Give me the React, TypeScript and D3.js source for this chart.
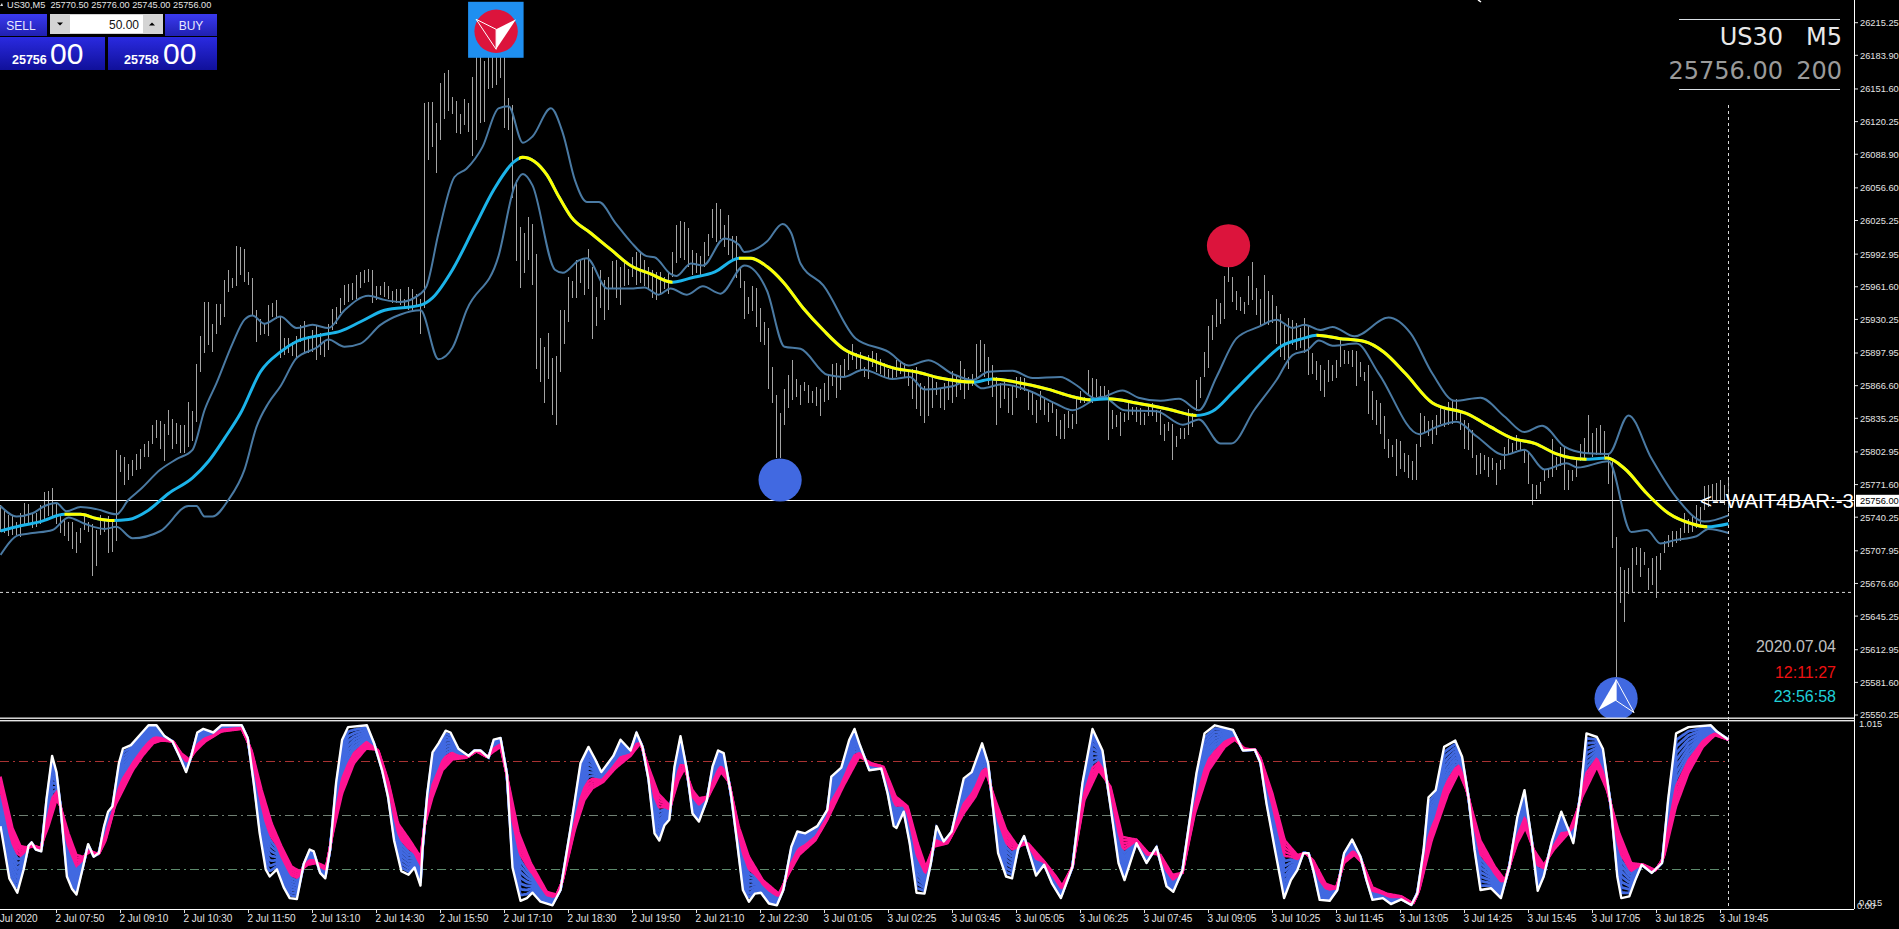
import React from 'react';
import * as d3 from 'd3';

// price bars, M5, one entry per bar (bar 0 is the left edge, bar 432 the last one)
const barHighs = [
  25752,25748,25742,25741,25736,25744,25754,25753,25744,25744,25752,25764,25765,25768,25754,25741,25738,25736,25736,25726,
  25730,25741,25736,25734,25728,25742,25738,25741,25736,25805,25800,25798,25791,25795,25801,25806,25811,25813,25829,25834,
  25833,25830,25843,25835,25831,25829,25829,25851,25842,25887,25914,25947,25947,25926,25945,25945,25968,25978,25970,26001,
  26000,25998,25976,25970,25939,25931,25927,25944,25946,25949,25933,25912,25912,25909,25914,25925,25929,25914,25920,25924,
  25917,25909,25926,25940,25942,25951,25963,25964,25965,25973,25976,25978,25979,25978,25962,25962,25966,25962,25958,25959,
  25959,25950,25961,25959,25955,25950,26138,26139,26139,26119,26157,26167,26170,26144,26140,26128,26142,26138,26163,26190,
  26185,26178,26183,26183,26183,26183,26183,26143,26136,26064,26019,26013,26029,26022,25993,25912,25904,25917,25893,25895,
  25939,25939,25971,25967,25987,25987,25989,25998,25981,25952,25978,25968,25971,25986,25987,25981,25986,25979,25990,25995,
  25994,25987,25981,25978,25976,25976,25971,25975,25995,26021,26025,26024,26018,25997,25994,25991,26005,26012,26036,26042,
  26036,26021,26031,26010,26010,25981,25967,25952,25962,25960,25941,25928,25922,25885,25858,25840,25863,25877,25891,25873,
  25867,25870,25867,25861,25865,25863,25869,25877,25887,25888,25886,25892,25899,25907,25898,25899,25885,25896,25900,25898,
  25892,25888,25883,25883,25891,25890,25888,25880,25883,25885,25869,25866,25875,25875,25870,25864,25869,25874,25881,25877,
  25890,25883,25875,25878,25907,25910,25907,25894,25886,25875,25869,25870,25864,25867,25875,25875,25874,25861,25861,25853,
  25861,25856,25850,25850,25844,25834,25839,25842,25839,25854,25861,25856,25882,25874,25873,25866,25866,25862,25843,25838,
  25841,25840,25850,25846,25846,25845,25840,25848,25850,25843,25843,25830,25832,25830,25818,25826,25826,25844,25840,25872,
  25875,25899,25924,25934,25950,25946,25972,25981,25971,25958,25952,25947,25972,25985,25960,25950,25973,25958,25954,25943,
  25935,25925,25932,25930,25927,25922,25932,25925,25898,25890,25886,25882,25891,25886,25891,25911,25901,25900,25901,25900,
  25889,25880,25886,25861,25853,25850,25837,25815,25810,25815,25813,25802,25800,25794,25811,25840,25837,25833,25834,25838,
  25848,25843,25851,25853,25854,25843,25834,25831,25824,25800,25802,25800,25798,25797,25792,25795,25808,25815,25812,25819,
  25814,25805,25803,25772,25771,25774,25786,25787,25815,25798,25808,25808,25786,25786,25795,25811,25816,25838,25821,25826,
  25829,25823,25802,25795,25721,25692,25690,25691,25711,25712,25711,25707,25691,25701,25703,25706,25717,25723,25727,25727,
  25730,25744,25739,25741,25752,25750,25770,25771,25772,25773,25776,25771,25776,
];
const barLows = [
  25726,25725,25722,25723,25723,25721,25733,25734,25730,25731,25734,25738,25741,25741,25734,25725,25722,25717,25710,25706,
  25715,25728,25726,25684,25693,25723,25726,25706,25707,25717,25784,25771,25776,25780,25786,25787,25798,25798,25811,25816,
  25806,25794,25819,25806,25811,25802,25802,25808,25813,25832,25880,25898,25906,25899,25916,25925,25933,25957,25960,25962,
  25973,25966,25963,25934,25909,25915,25916,25914,25933,25931,25893,25896,25898,25895,25893,25909,25899,25898,25899,25891,
  25896,25894,25901,25920,25926,25936,25944,25947,25949,25950,25960,25965,25966,25946,25949,25954,25952,25950,25946,25946,
  25944,25942,25939,25939,25942,25916,25941,26083,26096,26071,26103,26123,26130,26128,26109,26108,26117,26110,26087,26103,
  26119,26120,26152,26153,26155,26162,26114,26112,26047,25986,25960,25975,25987,25963,25883,25870,25850,25873,25838,25829,
  25880,25907,25928,25951,25951,25965,25954,25959,25911,25924,25941,25930,25939,25960,25951,25944,25962,25963,25971,25963,
  25965,25962,25959,25951,25949,25955,25959,25955,25971,25984,25989,25987,25981,25973,25975,25973,25981,25991,26008,26005,
  26007,26000,25992,25987,25970,25960,25931,25935,25938,25923,25909,25906,25863,25850,25797,25797,25829,25845,25853,25856,
  25848,25861,25850,25850,25847,25837,25851,25853,25866,25855,25862,25875,25882,25891,25883,25882,25875,25873,25885,25880,
  25878,25875,25874,25874,25875,25878,25874,25866,25854,25844,25837,25831,25837,25845,25858,25845,25843,25853,25850,25856,
  25862,25854,25862,25866,25874,25880,25875,25867,25856,25829,25845,25854,25840,25838,25855,25862,25861,25843,25838,25831,
  25843,25838,25832,25840,25818,25815,25815,25826,25825,25830,25850,25850,25858,25850,25856,25854,25853,25814,25825,25827,
  25818,25832,25834,25838,25832,25829,25829,25837,25837,25832,25819,25813,25823,25795,25808,25815,25815,25819,25827,25842,
  25855,25875,25884,25910,25923,25926,25931,25966,25947,25939,25938,25935,25944,25949,25934,25925,25925,25925,25927,25907,
  25894,25891,25883,25906,25901,25903,25898,25877,25878,25872,25861,25856,25870,25871,25874,25885,25887,25887,25885,25866,
  25875,25871,25839,25834,25829,25820,25806,25797,25798,25780,25787,25784,25778,25776,25776,25808,25821,25818,25811,25819,
  25830,25827,25829,25830,25834,25824,25806,25805,25797,25781,25782,25786,25779,25786,25771,25786,25787,25801,25801,25805,
  25804,25792,25772,25752,25758,25763,25775,25778,25779,25786,25789,25766,25766,25775,25779,25794,25795,25802,25798,25800,
  25800,25798,25772,25711,25587,25658,25640,25666,25667,25694,25683,25694,25670,25675,25663,25690,25706,25712,25712,25715,
  25717,25725,25725,25726,25730,25731,25747,25750,25757,25757,25754,25752,25745,
];

// [bar, price]
const midLine = [
  [0,25727],[5,25732],[10,25736],[16,25743],[20,25743],[24,25739],[28,25737],[32,25738],[37,25747],[42,25763],[48,25778],[52,25794],
  [56,25816],[60,25840],[65,25880],[70,25899],[74,25909],[80,25915],[85,25919],[90,25928],[96,25939],[105,25944],[108,25951],[113,25978],
  [118.5,26019],[123.5,26056],[128.5,26082],[130.5,26086],[133.5,26082],[136.6,26069],[139.6,26048],[142.6,26029],[147.6,26013],[152.7,25997],[157.5,25982],
  [162.5,25974],[168,25966],[172.6,25970],[178.6,25976],[184.6,25989],[187.6,25989],[191.6,25981],[195.7,25966],[200.7,25941],[205.7,25920],[210.7,25902],
  [217.8,25891],[223.8,25883],[228.8,25880],[234.8,25874],[243.4,25870],[247.9,25873],[253.9,25870],[262,25863],[268,25856],[272.5,25853],[277,25854],
  [284,25850],[292,25844],[299,25838],[303,25842],[308,25860],[314.5,25885],[320,25904],[325.7,25912],[329,25915],[334.6,25912],[341,25909],[345.8,25899],
  [351.3,25878],[358,25850],[367,25839],[372.5,25827],[378,25816],[383.7,25811],[389,25801],[396,25796],[401.6,25797],[406,25787],[411.6,25763],[417,25744],
  [422.8,25734],[426.7,25731],[432,25734],
];
const upperBand = [
  [0,25751],[4,25741],[8,25744],[11,25751],[14,25754],[16.5,25746],[20,25750],[24,25748],[29,25743],[32,25757],[35,25767],[40,25786],[44,25796],[48,25805],
  [51,25843],[54,25869],[58,25907],[61,25930],[63,25934],[66,25926],[70,25933],[74,25922],[78,25925],[82,25922],[86,25939],[92,25953],[96,25949],[100,25947],
  [105,25955],[106.5,25962],[109.5,26013],[113.5,26067],[116.5,26075],[120.5,26096],[124.5,26133],[127,26135],[130.6,26100],[133,26106],[137.6,26133],
  [140.6,26109],[143.6,26064],[146.6,26043],[149.6,26043],[153.7,26023],[157.5,26005],[161.5,25991],[163.5,25990],[167.5,25974],[169,25972],[172.6,25984],
  [175.6,25982],[181,26008],[184.6,26002],[186,25995],[191.6,26005],[195.5,26022],[197.7,26013],[200,25984],[205.7,25963],[213.8,25912],[222,25899],[227,25886],
  [232,25891],[238,25878],[243,25872],[247,25880],[253,25881],[258,25874],[265,25875],[269,25867],[274,25854],[280.5,25862],[284.5,25855],[290,25852],
  [294.6,25854],[299.6,25843],[304,25875],[309,25912],[314.5,25923],[319,25930],[323,25922],[326,25925],[330,25920],[333,25923],[338.5,25914],[347,25932],
  [352.5,25917],[358,25878],[363.6,25852],[370,25855],[376,25837],[381,25822],[385.4,25828],[391,25808],[396,25802],[402,25801],[407,25838],[412.7,25797],
  [419.4,25757],[426,25736],[432,25742],
];
const lowerBand = [
  [0,25704],[4.5,25723],[8,25725],[13,25728],[17,25740],[21,25734],[26,25729],[29,25731],[33,25720],[40,25727],[47,25751],[49,25751],[51,25741],[53,25741],
  [57,25757],[61,25786],[64,25827],[67,25850],[70,25866],[74,25893],[79,25903],[82,25911],[86,25904],[90,25907],[95,25925],[100,25935],[105,25939],[109.5,25892],
  [113,25903],[116.5,25939],[124.5,25991],[128.5,26058],[130.6,26070],[133,26059],[138.6,25978],[140.6,25975],[144.6,25987],[146.6,25989],[151.7,25960],
  [157.5,25960],[161,25961],[164.5,25954],[167.5,25960],[171.6,25954],[175.6,25962],[180,25955],[186,25982],[191.6,25958],[196,25904],[200,25902],[206.7,25877],
  [210.7,25875],[215.7,25882],[223,25873],[227.3,25875],[231,25863],[238,25866],[242,25872],[245.4,25864],[250.4,25868],[257,25862],[264,25849],[268,25843],
  [275.5,25856],[281,25843],[289,25842],[295.6,25829],[299.6,25834],[305,25811],[307.7,25811],[313.4,25843],[319,25872],[323,25896],[326.8,25901],[329.6,25910],
  [333,25905],[339,25907],[344.6,25878],[354.7,25820],[359,25827],[364,25832],[369,25818],[376,25800],[381,25805],[386,25786],[391.5,25792],[394.3,25788],
  [402,25794],[407.7,25726],[411.6,25728],[415,25715],[418.3,25718],[424,25722],[427,25729],[432,25725],
];
// bar ranges where the middle line is falling, it turns yellow there
const fallingRanges = [[16,28.5],[129.6,168],[184.6,243.4],[248,272.5],[277,299],[329,396.5],[401,426.7]];

// oscillator, [bar, value]. Fast is the white edge of the ribbon, slow the pink edge
const oscFast = [
  [0,.44],[2.2,.15],[4.2,.07],[5.8,.2],[7,.33],[7.8,.35],[8.8,.31],[10.2,.3],[11.5,.59],[12.9,.83],[14,.74],[15,.55],[16.6,.16],[17.9,.09],[19,.06],[20.6,.21],
  [21.9,.34],[23.3,.27],[24.6,.29],[25.9,.44],[26.9,.52],[28,.55],[29.6,.79],[30.6,.87],[32.6,.89],[35,.95],[37,1],[39,1],[41,.94],[43,.91],[44.7,.83],[46.4,.74],
  [47.7,.83],[49.2,.96],[50.7,.98],[53.2,.96],[55.2,1],[60.3,1],[61.8,.93],[63.3,.68],[64.8,.4],[66.3,.2],[67.3,.16],[69.1,.2],[70.8,.1],[72.3,.04],[74.1,.035],
  [75.8,.23],[77.3,.31],[78.3,.3],[79.9,.18],[81.2,.15],[82.4,.31],[83.9,.68],[85.4,.92],[86.9,.99],[91.6,1],[93.4,.9],[95.4,.75],[96.9,.6],[98.4,.36],[100.2,.19],
  [102,.17],[103.5,.21],[105,.11],[105.5,.31],[106.7,.62],[108,.85],[109.5,.9],[111.3,.97],[112.5,.96],[114.5,.87],[117,.83],[118.5,.86],[120,.86],[122,.82],
  [123.3,.92],[125,.93],[126.6,.73],[128,.21],[130,.025],[131.6,.04],[133,.07],[135,.02],[138,0],[140,.085],[142.6,.44],[145,.79],[147,.88],[148.7,.81],[150.2,.74],
  [153.2,.83],[155,.92],[157.5,.86],[159,.96],[160.5,.88],[162,.7],[163.5,.4],[164.7,.36],[166,.445],[167.2,.475],[168.5,.77],[170,.94],[171.6,.75],[173,.51],
  [174.6,.465],[176.6,.585],[178,.77],[179.4,.86],[180.8,.845],[182.6,.62],[184.1,.36],[185.6,.085],[187.1,.02],[188.6,.065],[190.1,.07],[192.1,.01],[194.1,0],
  [195.7,.085],[197.7,.325],[199.2,.41],[201.2,.4],[204.2,.44],[206.7,.53],[207.7,.715],[210.2,.765],[212.2,.92],[213.5,.98],[214.7,.9],[217.2,.75],[220.2,.76],
  [221.8,.62],[223.3,.44],[224,.43],[225.8,.52],[227.3,.345],[229,.07],[231,.065],[232.6,.235],[234,.44],[235.8,.355],[237.8,.41],[240.8,.705],[242.8,.74],[245.4,.9],
  [246.9,.79],[249.4,.29],[251.4,.16],[252.9,.15],[254.4,.315],[255.9,.385],[258.9,.165],[260.9,.225],[262.9,.12],[265.1,.04],[268,.215],[270.5,.68],[273,.98],
  [275.5,.86],[277.5,.55],[279.5,.235],[281,.14],[284,.345],[286.5,.235],[289,.325],[291.5,.105],[293.2,.075],[295.5,.195],[299,.735],[301,.955],[303.6,1],[308.1,.975],
  [310.6,.86],[313.6,.865],[315,.79],[316.5,.565],[318.6,.31],[320.9,.04],[322.6,.14],[324.2,.195],[325.7,.29],[327,.29],[328.2,.195],[329.8,.03],[332.3,.025],
  [334.2,.085],[335.9,.29],[337.9,.365],[340,.27],[341.5,.14],[343,.03],[345.6,.04],[347.6,.007],[350.2,.033],[352.7,.002],[354.2,.067],[355.8,.31],[357,.6],[358.8,.64],
  [360.9,.88],[363.7,.915],[365.4,.825],[367,.6],[368.5,.31],[370,.085],[372.6,.095],[375.1,.04],[377.2,.215],[379.2,.49],[381,.64],[382.8,.36],[384.3,.08],[385.8,.16],
  [387.9,.36],[390.2,.52],[392,.42],[393.2,.345],[395,.62],[396.5,.955],[399.1,.935],[400.6,.87],[402.6,.55],[404.2,.16],[405.2,.04],[407.2,.05],[408.7,.14],[410.3,.225],
  [412.8,.18],[415.4,.235],[416.9,.585],[418.9,.955],[422,.99],[427.6,1],[429.1,.965],[432,.92],
];
const oscSlow = [
  [0,.715],[3,.43],[5,.33],[7,.32],[8.5,.33],[10,.32],[12,.44],[14,.585],[15,.55],[17,.4],[19,.28],[20.6,.27],[22.6,.3],[24.6,.285],[26.3,.36],[28.6,.55],[30.6,.64],
  [33.1,.75],[35.7,.835],[38.2,.9],[40.2,.915],[43.2,.91],[45.2,.845],[47.2,.81],[48.7,.855],[51.2,.91],[55.2,.965],[60.3,.98],[62.8,.86],[65.3,.64],[67.8,.455],
  [70.3,.325],[72.8,.215],[74.8,.19],[76.8,.225],[79.3,.235],[81.4,.215],[82.9,.38],[85.4,.62],[88.4,.79],[91.4,.87],[94.4,.865],[96.9,.695],[99.4,.455],[102.4,.36],
  [105,.27],[106,.44],[108,.6],[110.5,.75],[113,.81],[116.5,.82],[119,.855],[121.5,.825],[125,.88],[127,.68],[129.6,.4],[132.6,.235],[136.6,.075],[139,.06],[140.6,.14],
  [143.6,.42],[146,.585],[148,.65],[150.7,.685],[153.7,.76],[157.5,.83],[160,.9],[162,.77],[164.5,.62],[167.5,.55],[169.5,.695],[171,.76],[173,.64],[174.6,.595],[177,.605],
  [180.1,.74],[182.1,.685],[184.6,.435],[187.1,.27],[190.6,.14],[194.6,.065],[196.7,.16],[199.7,.28],[203.7,.36],[206.7,.475],[210.7,.66],[214.7,.825],[217.7,.79],[220.8,.77],
  [223.8,.605],[226.8,.55],[229.3,.345],[231.3,.215],[233.3,.325],[236.8,.345],[240.8,.51],[243.8,.605],[246.4,.735],[248.4,.605],[251.4,.42],[254.4,.325],[256.9,.345],
  [260.9,.245],[263.9,.16],[265.4,.11],[268,.215],[271,.585],[274.5,.75],[277.5,.66],[280.5,.38],[284,.365],[287,.29],[290,.28],[293,.17],[295.5,.18],[298.6,.51],[302.1,.75],
  [306.1,.88],[308.6,.92],[311.1,.87],[313.6,.865],[315,.82],[318,.62],[321.1,.36],[324.2,.28],[326.2,.29],[328.2,.25],[331.3,.12],[333.9,.1],[335.9,.235],[338.4,.28],[340.5,.235],
  [343,.1],[346.6,.065],[350.2,.05],[353.2,.01],[354.7,.085],[357.8,.36],[361.9,.62],[364.6,.74],[366.5,.64],[370,.36],[373.6,.215],[376.1,.14],[379.2,.345],[381.2,.43],[383.3,.31],
  [385.8,.225],[388.4,.31],[392,.4],[395.5,.605],[399.1,.77],[401.6,.64],[404.7,.4],[407.7,.235],[410.8,.225],[413.8,.195],[415.9,.27],[418.9,.55],[422,.735],[425.6,.88],[428.6,.945],[432,.92],
];
// the ribbon strands between the two read edges are blended from them
const blueMix = [.09, .18, .27, .36, .45, .54, .63];
const pinkMix = [.72, .79, .86, .93, 1];

const oscLevels = [.8, .5, .2];
const oscLevelColors = ['#a83232', '#6f7f72', '#5d8a6c'];

const priceTicks = [
  '26215.25','26183.90','26151.60','26120.25','26088.90','26056.60','26025.25','25992.95','25961.60','25930.25','25897.95',
  '25866.60','25835.25','25802.95','25771.60','25740.25','25707.95','25676.60','25645.25','25612.95','25581.60','25550.25',
];
// one label every 16 bars, the first one sits two bars before the left edge
const timeLabels = [
  '2 Jul 2020','2 Jul 07:50','2 Jul 09:10','2 Jul 10:30','2 Jul 11:50','2 Jul 13:10','2 Jul 14:30','2 Jul 15:50','2 Jul 17:10','2 Jul 18:30',
  '2 Jul 19:50','2 Jul 21:10','2 Jul 22:30','3 Jul 01:05','3 Jul 02:25','3 Jul 03:45','3 Jul 05:05','3 Jul 06:25','3 Jul 07:45','3 Jul 09:05',
  '3 Jul 10:25','3 Jul 11:45','3 Jul 13:05','3 Jul 14:25','3 Jul 15:45','3 Jul 17:05','3 Jul 18:25','3 Jul 19:45',
];

const bidPrice = 25756;
const dottedPrice = 25668;
const logoMark = {bar: 123.9, price: 26207};
const sellDot = {bar: 307, price: 26001};
const buyDot = {bar: 194.9, price: 25776};
const buyArrow = {bar: 403.9, price: 25566};

const WIDTH = 1899;
const HEIGHT = 929;
const AXIS_X = 1854;
const BOTTOM = 909;
const SPLIT = 718;
const SANS = '"Liberation Sans", Arial, sans-serif';

const x = d3.scaleLinear().domain([0, 432]).range([0.5, 1728.5]);
const y = d3.scaleLinear().domain([25550.25, 26215.25]).range([715, 22.7]);
const yOsc = d3.scaleLinear().domain([0, 1]).range([905.3, 725.3]);

const priceLine = d3.line<number[]>().x(d => x(d[0])).y(d => y(d[1])).curve(d3.curveMonotoneX);
const oscLine = d3.line<number[]>().x(d => x(d[0])).y(d => yOsc(d[1]));

const fastAt = d3.scaleLinear().domain(oscFast.map(d => d[0])).range(oscFast.map(d => d[1]));
const slowAt = d3.scaleLinear().domain(oscSlow.map(d => d[0])).range(oscSlow.map(d => d[1]));
const ribbonBars = d3.range(0, 432.25, 0.25);
const strand = (mix: number) => oscLine(ribbonBars.map(b => [b, fastAt(b) + (slowAt(b) - fastAt(b)) * mix])) as string;

const MarkerArrow = ({cx, cy}: {cx: number; cy: number}) => (
  <g transform={`translate(${cx},${cy})`}>
    <path d="M0,-19L-18,12L0,2Z" fill="#fff" />
    <path d="M0,-19L18,14L0,2Z" fill="none" stroke="#fff" strokeWidth={1} />
  </g>
);

const App = () => {
  const bars = d3.range(barHighs.length);
  const panelX = [0, 108];
  const panelW = [105, 109];
  const quotes = ['25756', '25758'];

  return (
    <>
      <style>{'html,body{margin:0;padding:0;background:#000;overflow:hidden}'}</style>
      <svg width={WIDTH} height={HEIGHT} style={{display: 'block', background: '#000'}}>
        <defs>
          <linearGradient id="btn" x1="0" x2="0" y1="0" y2="1">
            <stop offset="0" stopColor="#3a3af0" />
            <stop offset="1" stopColor="#2020b0" />
          </linearGradient>
          <linearGradient id="quote" x1="0" x2="0" y1="0" y2="1">
            <stop offset="0" stopColor="#2a2ae0" />
            <stop offset="1" stopColor="#10109a" />
          </linearGradient>
          <clipPath id="falling">
            {fallingRanges.map(r => (
              <rect key={r[0]} x={x(r[0])} width={x(r[1]) - x(r[0])} y={0} height={SPLIT} />
            ))}
          </clipPath>
          <clipPath id="mainPane">
            <rect x={0} y={0} width={AXIS_X} height={SPLIT} />
          </clipPath>
        </defs>

        {/* price pane */}
        <g clipPath="url(#mainPane)">
          <line x1={0} x2={AXIS_X} y1={y(dottedPrice)} y2={y(dottedPrice)} stroke="#d8d8d8" strokeDasharray="3,3" />
          {bars.map(i => (
            <line key={i} x1={x(i)} x2={x(i)} y1={y(barHighs[i])} y2={y(barLows[i])} stroke="#a4a4a4" strokeWidth={1} shapeRendering="crispEdges" />
          ))}
          <line x1={0} x2={AXIS_X} y1={y(bidPrice)} y2={y(bidPrice)} stroke="#fff" strokeWidth={1} shapeRendering="crispEdges" />
          <path d={priceLine(upperBand) as string} fill="none" stroke="#4a7aa3" strokeWidth={2} />
          <path d={priceLine(lowerBand) as string} fill="none" stroke="#4a7aa3" strokeWidth={2} />
          <path d={priceLine(midLine) as string} fill="none" stroke="#1cb4ea" strokeWidth={3} />
          <path d={priceLine(midLine) as string} fill="none" stroke="#ffff00" strokeWidth={3} clipPath="url(#falling)" />

          <rect x={x(logoMark.bar) - 28} y={y(logoMark.price) - 29.5} width={55.5} height={56} fill="#1f8ff0" />
          <g transform={`translate(${x(logoMark.bar)},${y(logoMark.price)})`}>
            <circle r={21.7} fill="#dc143c" />
            <path d="M20,-12L0,-2L0,18Z" fill="#fff" />
            <path d="M-20,-12L0,-2L0,18Z" fill="none" stroke="#fff" strokeWidth={1} />
          </g>
          <circle cx={x(sellDot.bar)} cy={y(sellDot.price)} r={21.6} fill="#dc143c" />
          <circle cx={x(buyDot.bar)} cy={y(buyDot.price)} r={21.6} fill="#4169e1" />
          <circle cx={x(buyArrow.bar)} cy={y(buyArrow.price)} r={21.6} fill="#4169e1" />
          <MarkerArrow cx={x(buyArrow.bar)} cy={y(buyArrow.price)} />
        </g>

        {/* oscillator pane */}
        {oscLevels.map((lvl, k) => (
          <line key={lvl} x1={0} x2={x(432)} y1={yOsc(lvl)} y2={yOsc(lvl)} stroke={oscLevelColors[k]} strokeDasharray="9,4,2,4" shapeRendering="crispEdges" />
        ))}
        {blueMix.map(m => <path key={m} d={strand(m)} fill="none" stroke="#4169e1" strokeWidth={2.8} />)}
        {pinkMix.map(m => <path key={m} d={strand(m)} fill="none" stroke="#ff1493" strokeWidth={2.4} />)}
        <path d={oscLine(oscFast) as string} fill="none" stroke="#fff" strokeWidth={2.4} strokeLinejoin="round" />

        {/* frame and axes */}
        <rect x={0} y={SPLIT - 0.5} width={AXIS_X} height={1.4} fill="#e8e8e8" />
        <rect x={0} y={SPLIT + 2} width={AXIS_X} height={1.4} fill="#e8e8e8" />
        <line x1={AXIS_X + 0.5} x2={AXIS_X + 0.5} y1={0} y2={BOTTOM} stroke="#fff" shapeRendering="crispEdges" />
        <line x1={0} x2={AXIS_X} y1={BOTTOM + 0.5} y2={BOTTOM + 0.5} stroke="#fff" shapeRendering="crispEdges" />
        <line x1={x(432)} x2={x(432)} y1={105} y2={BOTTOM} stroke="#d8d8d8" strokeDasharray="3,3" shapeRendering="crispEdges" />

        {priceTicks.map(t => (
          <g key={t} transform={`translate(${AXIS_X},${y(+t)})`}>
            <line x1={1} x2={4} stroke="#ddd" />
            <text x={6} y={3.4} fontFamily={SANS} fontSize={9.3} fill="#e4e4e4">{t}</text>
          </g>
        ))}
        <rect x={AXIS_X + 2} y={y(bidPrice) - 6} width={43} height={12} fill="#fff" />
        <text x={AXIS_X + 6} y={y(bidPrice) + 3.4} fontFamily={SANS} fontSize={9.3} fill="#000">25756.00</text>
        <text x={AXIS_X + 5} y={yOsc(1.015) + 4.5} fontFamily={SANS} fontSize={9.3} fill="#e4e4e4">1.015</text>
        <text x={AXIS_X + 5} y={yOsc(0.015) + 3} fontFamily={SANS} fontSize={9.3} fill="#e4e4e4">0.015</text>
        <text x={AXIS_X + 3} y={yOsc(0) + 3.5} fontFamily={SANS} fontSize={9.3} fill="#e4e4e4">0.00</text>

        {timeLabels.map((t, k) => {
          const tx = x(-2 + 16 * k);
          return (
            <g key={t} transform={`translate(${tx},${BOTTOM})`}>
              {k > 0 && <line y1={1} y2={4} stroke="#ddd" />}
              <text x={-1} y={12.5} fontFamily={SANS} fontSize={10} fill="#e4e4e4">{t}</text>
            </g>
          );
        })}

        {/* header and trade panel */}
        <path d="M0,6L2,3L3,6Z" fill="#ddd" />
        <text x={7} y={8} fontFamily={SANS} fontSize={9.2} fill="#e4e4e4" xmlSpace="preserve">US30,M5  25770.50 25776.00 25745.00 25756.00</text>
        <path d="M1478,0L1481,2" stroke="#fff" strokeWidth={1.5} />

        <rect x={0} y={14} width={47} height={22} fill="url(#btn)" />
        <rect x={165} y={14} width={52} height={22} fill="url(#btn)" />
        <text x={21} y={30} textAnchor="middle" fontFamily={SANS} fontSize={12} fill="#e8e8ff">SELL</text>
        <text x={191} y={30} textAnchor="middle" fontFamily={SANS} fontSize={12} fill="#e8e8ff">BUY</text>
        <rect x={50} y={14} width={113} height={20} fill="#d4d4d4" />
        <rect x={70} y={15} width={73} height={18} fill="#fff" />
        <path d="M57,22.5h6l-3,3Z" fill="#000" />
        <path d="M149,25.5h6l-3,-3Z" fill="#000" />
        <text x={139} y={28.5} textAnchor="end" fontFamily={SANS} fontSize={12} fill="#111">50.00</text>
        {quotes.map((q, k) => (
          <g key={q}>
            <rect x={panelX[k]} y={37} width={panelW[k]} height={33} fill="url(#quote)" />
            <text x={panelX[k] + 12 + k * 4} y={64} fontFamily={SANS} fontSize={12.5} fontWeight="bold" fill="#fff">{q}</text>
            <text x={panelX[k] + 50 + k * 5} y={64} fontFamily={SANS} fontSize={30} fill="#fff">00</text>
          </g>
        ))}

        {/* top right info box */}
        <line x1={1679} x2={1840} y1={19.5} y2={19.5} stroke="#d8dee4" />
        <line x1={1679} x2={1840} y1={89.5} y2={89.5} stroke="#d8dee4" />
        <text x={1783} y={45} textAnchor="end" fontFamily="DejaVu Sans" fontSize={24} fill="#e8e8e8">US30</text>
        <text x={1842} y={45} textAnchor="end" fontFamily="DejaVu Sans" fontSize={24} fill="#e8e8e8">M5</text>
        <text x={1783} y={79} textAnchor="end" fontFamily="DejaVu Sans" fontSize={24} fill="#9a9a9a">25756.00</text>
        <text x={1842} y={79} textAnchor="end" fontFamily="DejaVu Sans" fontSize={24} fill="#9a9a9a">200</text>

        <text x={1700} y={y(bidPrice) + 7.5} textLength={154} lengthAdjust="spacingAndGlyphs" fontFamily={SANS} fontSize={21} fill="#fff">{'<--WAIT4BAR:-3'}</text>

        <text x={1836} y={652} textAnchor="end" fontFamily={SANS} fontSize={16} fill="#c0c0c0">2020.07.04</text>
        <text x={1836} y={678} textAnchor="end" fontFamily={SANS} fontSize={16} fill="#ee1111">12:11:27</text>
        <text x={1836} y={702} textAnchor="end" fontFamily={SANS} fontSize={16} fill="#20d0d8">23:56:58</text>
      </svg>
    </>
  );
};

export default App;
